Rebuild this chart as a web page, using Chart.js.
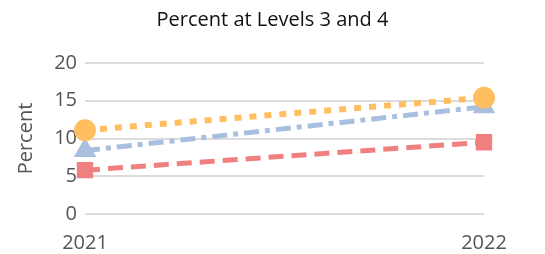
<!DOCTYPE html>
<html>
<head>
<meta charset="utf-8">
<style>
html, body { margin: 0; padding: 0; background: #fff; }
#wrap { width: 545px; height: 254px; position: relative; }
</style>
<script src="https://cdn.jsdelivr.net/npm/chart.js"></script>
</head>
<body>
<div id="wrap"><canvas id="chart"></canvas></div>
<script>
const years = ['2021', '2022'];
const seriesA = [11.1, 15.4];   // orange, dotted, circle
const seriesB = [8.4, 14.2];    // blue, dash-dot, triangle
const seriesC = [5.8, 9.5];     // red, dashed, square
const yTicks = [0, 5, 10, 15, 20];

const font = '"Open Sans", "Noto Sans", sans-serif';

new Chart(document.getElementById('chart'), {
  type: 'line',
  data: {
    labels: years,
    datasets: [
      { label: 'A', data: seriesA, borderColor: '#FFBF60', backgroundColor: '#FFBF60',
        borderWidth: 6, borderDash: [7, 8], pointStyle: 'circle', pointRadius: 8, pointHoverRadius: 8 },
      { label: 'B', data: seriesB, borderColor: '#A9BFDF', backgroundColor: '#A9BFDF',
        borderWidth: 5, borderDash: [15, 6, 5, 6], pointStyle: 'triangle', pointRadius: 8, pointHoverRadius: 8 },
      { label: 'C', data: seriesC, borderColor: '#F08080', backgroundColor: '#F08080',
        borderWidth: 5, borderDash: [15, 8], pointStyle: 'rect', pointRadius: 8, pointHoverRadius: 8 }
    ]
  },
  options: {
    responsive: true,
    maintainAspectRatio: false,
    animation: false,
    layout: { padding: 0 },
    plugins: {
      legend: { display: false },
      tooltip: { enabled: false },
      title: {
        display: true,
        text: 'Percent at Levels 3 and 4',
        color: '#111',
        font: { family: font, size: 20, weight: 'normal' },
        padding: { top: 8, bottom: 31 }
      }
    },
    scales: {
      x: {
        offset: false,
        grid: { display: false },
        border: { display: false },
        ticks: { color: '#555', font: { family: font, size: 20 }, padding: 9, maxRotation: 0 },
        afterFit: s => { s.height = 40; }
      },
      y: {
        min: 0, max: 20,
        afterBuildTicks: s => { s.ticks = yTicks.map(v => ({ value: v })); },
        grid: { color: '#DCDCDC', lineWidth: 2, drawTicks: false },
        border: { display: false },
        ticks: { color: '#555', font: { family: font, size: 20 }, padding: 8 },
        title: { display: true, text: 'Percent', color: '#555', font: { family: font, size: 20 }, padding: { top: 14, bottom: 4 } },
        afterFit: s => { s.width = 85; }
      },
      spacer: {
        position: 'right',
        grid: { display: false },
        border: { display: false },
        ticks: { display: false },
        afterFit: s => { s.width = 61; }
      }
    }
  }
});
</script>
</body>
</html>
